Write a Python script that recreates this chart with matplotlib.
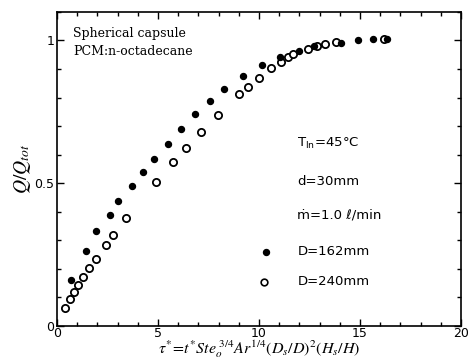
import matplotlib
matplotlib.use("Agg")
import matplotlib.pyplot as plt
from matplotlib.ticker import MultipleLocator

# D = 162 mm (filled)
tau_162 = [0.68, 1.42, 1.92, 2.61, 3.03, 3.73, 4.25, 4.79, 5.48, 6.16, 6.83, 7.56,
           8.29, 9.22, 10.17, 11.04, 11.99, 12.70, 14.08, 14.90, 15.65, 16.32]
q_162 = [0.161, 0.264, 0.331, 0.389, 0.439, 0.491, 0.538, 0.585, 0.639, 0.690, 0.744, 0.789,
         0.830, 0.875, 0.914, 0.943, 0.962, 0.982, 0.990, 1.000, 1.006, 1.006]

# D = 240 mm (open)
tau_240 = [0.41, 0.63, 0.84, 1.04, 1.27, 1.58, 1.95, 2.41, 2.79, 3.42, 4.90, 5.75, 6.40,
           7.12, 7.97, 8.99, 9.45, 10.00, 10.59, 11.07, 11.42, 11.70, 12.44, 12.89, 13.27,
           13.83, 16.20]
q_240 = [0.064, 0.095, 0.120, 0.144, 0.170, 0.204, 0.236, 0.282, 0.317, 0.377, 0.505, 0.574,
         0.625, 0.681, 0.739, 0.813, 0.837, 0.867, 0.903, 0.924, 0.943, 0.951, 0.970, 0.980,
         0.987, 0.995, 1.006]

xticks = [0, 5, 10, 15, 20]
xticklabels = ["0", "5", "10", "15", "20"]
yticks = [0, 0.5, 1]
yticklabels = ["0", "0.5", "1"]

plt.rcParams['mathtext.fontset'] = 'stix'

fig = plt.figure(figsize=(4.71, 3.61), dpi=100)
ax = fig.add_axes([0.121, 0.097, 0.858, 0.870])

ax.plot(tau_240, q_240, linestyle='none', marker='o', markersize=5.2,
        markerfacecolor='white', markeredgecolor='black', markeredgewidth=1.3, zorder=3)
ax.plot(tau_162, q_162, linestyle='none', marker='o', markersize=4.3,
        markerfacecolor='black', markeredgecolor='black', zorder=4)

ax.set_xlim(0, 20)
ax.set_ylim(0, 1.1)
ax.set_xticks(xticks)
ax.set_xticklabels(xticklabels)
ax.set_yticks(yticks)
ax.set_yticklabels(yticklabels)
ax.xaxis.set_minor_locator(MultipleLocator(1))
ax.yaxis.set_minor_locator(MultipleLocator(0.1))
ax.tick_params(which='both', direction='in', top=True, right=True, labelsize=9, width=1.0)
ax.tick_params(which='major', length=5, pad=2)
ax.tick_params(axis='x', which='major', pad=1)
ax.tick_params(which='minor', length=3)
for s in ax.spines.values():
    s.set_linewidth(1.2)

ax.set_ylabel(r'$Q/Q_{tot}$', fontsize=14, labelpad=1)
ax.set_xlabel(r'$\tau^{*}\!=\!t^{*}Ste_{o}^{\ 3/4}Ar^{1/4}(D_s/D)^2(H_s/H)$', fontsize=11.5, labelpad=-1)

ax.text(0.8, 1.025, 'Spherical capsule', family='DejaVu Serif', fontsize=9, va='center')
ax.text(0.8, 0.961, 'PCM:n-octadecane', family='DejaVu Serif', fontsize=9, va='center')

fs = 9.5
ax.text(11.9, 0.640, r'T$_{\rm In}$=45°C', fontsize=fs, va='center', math_fontfamily='dejavusans')
ax.text(11.9, 0.506, 'd=30mm', fontsize=fs, va='center')
ax.text(11.9, 0.389, 'ṁ=1.0 ℓ/min', fontsize=fs, va='center')
ax.text(11.9, 0.260, 'D=162mm', fontsize=fs, va='center')
ax.text(11.9, 0.155, 'D=240mm', fontsize=fs, va='center')
ax.plot([10.35], [0.260], marker='o', markersize=4.3, color='black', linestyle='none')
ax.plot([10.25], [0.155], marker='o', markersize=4.8, markerfacecolor='white',
        markeredgecolor='black', markeredgewidth=1.2, linestyle='none')

fig.savefig('out.png', dpi=100)
